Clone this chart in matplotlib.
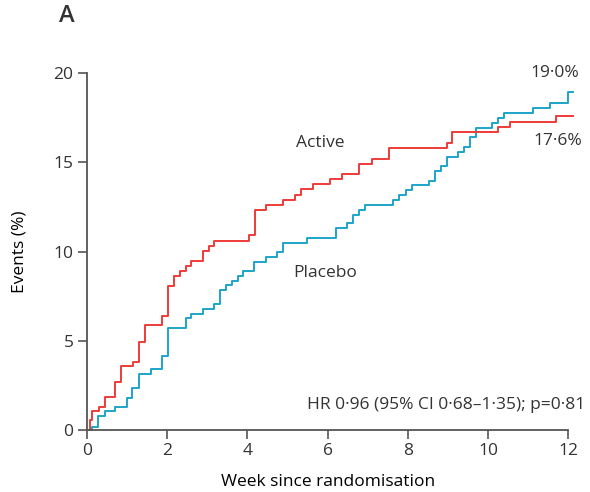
"""Cumulative events by week since randomisation, active vs placebo (panel A)."""

import matplotlib
matplotlib.use("Agg")
import matplotlib.pyplot as plt

plt.rcParams.update({
    "font.family": ["Open Sans", "DejaVu Sans"],
    "font.size": 12.5,
    "text.color": "#333333",
    "axes.edgecolor": "#555555",
    "xtick.color": "#555555",
    "ytick.color": "#555555",
    "xtick.labelcolor": "#333333",
    "ytick.labelcolor": "#333333",
})

RED = "#ee3b38"
BLUE = "#1ca4c8"

# Kaplan-Meier style step data (week, cumulative events %)
weeks_active = [0, 0.08, 0.13, 0.31, 0.46, 0.71, 0.85, 1.15, 1.30, 1.44, 1.88, 2.03,
                2.17, 2.32, 2.47, 2.60, 2.90, 3.05, 3.18, 4.05, 4.19, 4.47, 4.90, 5.19,
                5.33, 5.63, 6.06, 6.35, 6.77, 7.10, 7.53, 8.97, 9.10, 10.25, 10.54,
                11.69, 12.12]
events_active = [0, 0.56, 1.06, 1.30, 1.87, 2.70, 3.58, 3.83, 4.95, 5.86, 6.38, 8.07,
                 8.63, 8.90, 9.20, 9.49, 10.05, 10.30, 10.57, 10.90, 12.32, 12.59, 12.88,
                 13.17, 13.48, 13.76, 14.04, 14.34, 14.88, 15.18, 15.78, 16.10, 16.68,
                 16.97, 17.27, 17.60, 17.60]

weeks_placebo = [0, 0.13, 0.29, 0.46, 0.71, 1.00, 1.14, 1.30, 1.59, 1.88, 2.03, 2.47,
                 2.60, 2.90, 3.18, 3.33, 3.47, 3.62, 3.76, 3.90, 4.17, 4.46, 4.75, 4.90,
                 5.48, 6.20, 6.48, 6.63, 6.78, 6.93, 7.64, 7.79, 7.95, 8.10, 8.53, 8.67,
                 8.82, 8.97, 9.26, 9.40, 9.55, 9.69, 10.10, 10.25, 10.40, 11.11, 11.54,
                 11.98, 12.12]
events_placebo = [0, 0.19, 0.78, 1.06, 1.31, 1.81, 2.33, 3.12, 3.40, 4.16, 5.70, 6.26,
                  6.50, 6.80, 7.08, 7.84, 8.10, 8.37, 8.63, 8.91, 9.41, 9.71, 9.96, 10.50,
                  10.78, 11.32, 11.58, 12.07, 12.34, 12.60, 12.90, 13.17, 13.45, 13.70,
                  13.97, 14.51, 14.80, 15.30, 15.58, 15.84, 16.40, 16.94, 17.22, 17.46,
                  17.74, 18.02, 18.30, 18.95, 18.95]

x_ticks = [0, 2, 4, 6, 8, 10, 12]
y_ticks = [0, 5, 10, 15, 20]

fig = plt.figure(figsize=(5.9, 4.92), dpi=100)
ax = fig.add_axes([0.147, 0.126, 0.8165, 0.7256])

ax.step(weeks_placebo, events_placebo, where="post", color=BLUE, lw=1.4, clip_on=False)
ax.step(weeks_active, events_active, where="post", color=RED, lw=1.4, clip_on=False)

ax.set_xlim(0, 12)
ax.set_ylim(0, 20)
ax.set_xticks(x_ticks)
ax.set_yticks(y_ticks)
ax.tick_params(direction="out", length=6.5, width=1.2, pad=3)
for side in ("top", "right"):
    ax.spines[side].set_visible(False)
for side in ("left", "bottom"):
    ax.spines[side].set_linewidth(1.3)

ax.set_xlabel("Week since randomisation", labelpad=11)
ax.set_ylabel("Events (%)", labelpad=19)

ax.text(5.81, 16.08, "Active", ha="center", va="center")
ax.text(5.94, 8.8, "Placebo", ha="center", va="center")
ax.text(11.66, 20.0, "19\u00b70%", ha="center", va="center", clip_on=False)
ax.text(11.73, 16.19, "17\u00b76%", ha="center", va="center", clip_on=False)
ax.text(12.41, 1.4, "HR 0\u00b796 (95% CI 0\u00b768\u20131\u00b735); p=0\u00b781",
        ha="right", va="center", clip_on=False)

fig.text(67 / 590, 1 - 16 / 492, "A", ha="center", va="center",
         fontsize=17, fontweight="semibold")

fig.savefig("out.png", dpi=100)
plt.close(fig)
